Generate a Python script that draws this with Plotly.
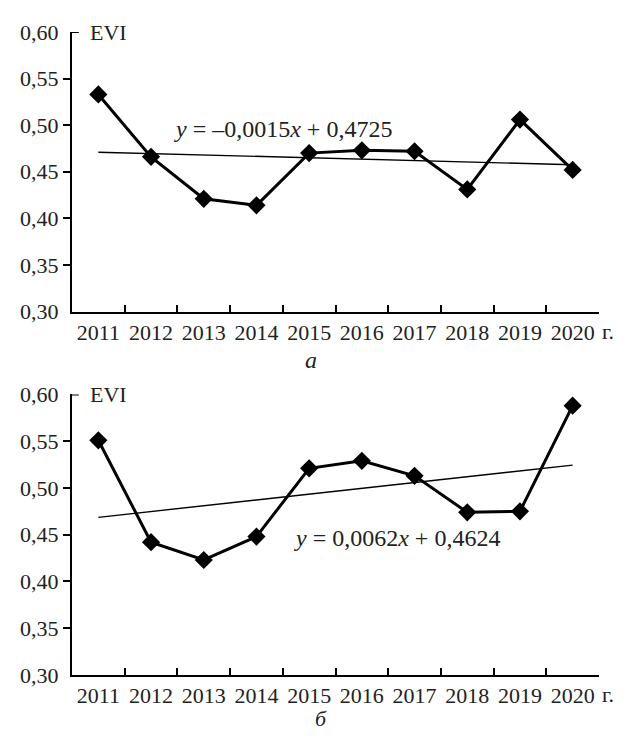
import plotly.graph_objects as go
from plotly.subplots import make_subplots

years = ["2011", "2012", "2013", "2014", "2015", "2016", "2017", "2018", "2019", "2020"]
evi_a = [0.533, 0.466, 0.421, 0.414, 0.470, 0.473, 0.472, 0.431, 0.506, 0.452]
evi_b = [0.551, 0.442, 0.423, 0.448, 0.521, 0.529, 0.513, 0.474, 0.475, 0.588]
trend_a = (-0.0015, 0.4725)
trend_b = (0.0062, 0.4624)
eq_a = "<i>y</i> = –0,0015<i>x</i> + 0,4725"
eq_b = "<i>y</i> = 0,0062<i>x</i> + 0,4624"
y_ticks = [0.30, 0.35, 0.40, 0.45, 0.50, 0.55, 0.60]

FONT = "Liberation Serif"
TOP_DOM = [0.5653, 1.0]
BOT_DOM = [0.0, 0.4363]
fig = make_subplots(rows=2, cols=1)

for row, vals, tr in [(1, evi_a, trend_a), (2, evi_b, trend_b)]:
    n = len(years)
    fig.add_trace(go.Scatter(
        x=years, y=vals, mode="lines+markers",
        line=dict(color="black", width=3),
        marker=dict(symbol="diamond", size=14, color="black"),
        showlegend=False), row=row, col=1)
    fig.add_trace(go.Scatter(
        x=[years[0], years[-1]],
        y=[tr[0] * 1 + tr[1], tr[0] * n + tr[1]],
        mode="lines", line=dict(color="black", width=1.4),
        showlegend=False, hoverinfo="skip"), row=row, col=1)

axis_font = dict(family=FONT, size=22, color="#222")
for row in (1, 2):
    fig.update_xaxes(type="category", categoryorder="array", categoryarray=years,
                     tickson="boundaries", ticks="inside", tickangle=0,
                     ticklen=7, tickwidth=2, tickcolor="black",
                     showline=True, linecolor="black", linewidth=2,
                     showgrid=False, zeroline=False, tickfont=axis_font,
                     ticklabelstandoff=0, range=[-0.5, 9.5], row=row, col=1)
    fig.update_yaxes(range=[0.30, 0.60], tickvals=y_ticks, ticks="",
                     tickformat=".2f", showline=True, linecolor="black",
                     linewidth=2, showgrid=False, zeroline=False,
                     tickfont=axis_font, ticklabelstandoff=7,
                     minor=dict(tickvals=y_ticks[1:-1], ticks="outside",
                                ticklen=7, tickwidth=2, tickcolor="black"),
                     row=row, col=1)

# top inward tick at 0,60
for yref in ("y", "y2"):
    fig.add_shape(type="line", xref="paper", yref=yref, x0=0, x1=0.013,
                  y0=0.60, y1=0.60, line=dict(color="black", width=2))

ann_font = dict(family=FONT, size=22, color="#222")
eq_font = dict(family=FONT, size=24, color="#222")
for yref in ("y", "y2"):
    fig.add_annotation(text="EVI", xref="paper", yref=yref, x=0.03, y=0.60,
                       xanchor="left", yanchor="middle", showarrow=False,
                       font=ann_font)
fig.add_annotation(text=eq_a, xref="paper", yref="y", x=0.40, y=0.496,
                   showarrow=False, font=eq_font)
fig.add_annotation(text=eq_b, xref="paper", yref="y2", x=0.617, y=0.447,
                   showarrow=False, font=eq_font)
for yd in (TOP_DOM[0], BOT_DOM[0]):
    fig.add_annotation(text="г.", xref="paper", yref="paper", x=1.0, y=yd,
                       xanchor="left", yanchor="top", yshift=-5, xshift=1,
                       showarrow=False, font=axis_font)
fig.add_annotation(text="<i>а</i>", xref="paper", yref="paper", x=0.454,
                   y=TOP_DOM[0], yanchor="top", yshift=-33, showarrow=False,
                   font=dict(family=FONT, size=24, color="#222"))
fig.add_annotation(text="<i>б</i>", xref="paper", yref="paper", x=0.472,
                   y=BOT_DOM[0], yanchor="top", yshift=-29, showarrow=False,
                   font=dict(family=FONT, size=22, color="#222"))

fig.update_layout(width=607, height=724, separators=", ",
                  margin=dict(l=59, r=16, t=16, b=57),
                  paper_bgcolor="white", plot_bgcolor="white",
                  font=dict(family=FONT, color="#222"))
fig.update_layout(yaxis=dict(domain=TOP_DOM), yaxis2=dict(domain=BOT_DOM))
fig.write_html("out.html")
